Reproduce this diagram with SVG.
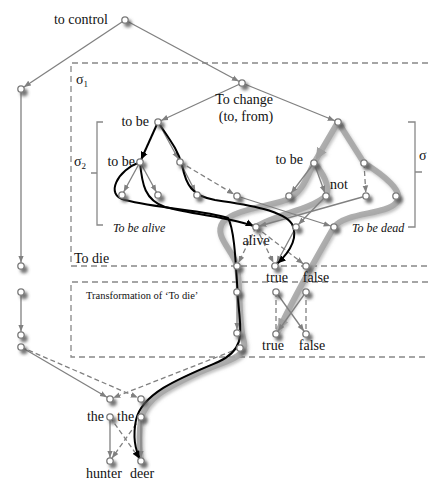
<svg xmlns="http://www.w3.org/2000/svg" width="428" height="480" viewBox="0 0 428 480">
<style>
text{font-family:"Liberation Serif","Times New Roman",serif;fill:#111;}
.f14{font-size:14px;}
.it{font-size:12px;font-style:italic;}
.sm{font-size:10.5px;}
.t{fill:none;stroke:#808080;stroke-width:1.3;}
.d{fill:none;stroke:#808080;stroke-width:1.3;stroke-dasharray:5,3;}
.g{fill:none;stroke:#a6a6a6;stroke-width:6;stroke-linecap:round;stroke-opacity:0.9;}
.k{fill:none;stroke:#000;stroke-width:2;}
.box{fill:none;stroke:#888;stroke-width:1.3;stroke-dasharray:6,4;}
.br{fill:none;stroke:#888;stroke-width:1.3;}
.n{fill:#fff;stroke:#7a7a7a;stroke-width:1.3;filter:url(#sh);}
</style>
<defs>
<filter id="sh" x="-100%" y="-100%" width="300%" height="300%">
<feDropShadow dx="3" dy="3.5" stdDeviation="1.8" flood-color="#555" flood-opacity="0.8"/>
</filter>
<filter id="gs" x="-20%" y="-20%" width="140%" height="140%">
<feDropShadow dx="1.5" dy="2" stdDeviation="1.5" flood-color="#777" flood-opacity="0.5"/>
</filter>
<marker id="ag" viewBox="0 0 10 10" refX="15" refY="5" markerWidth="7" markerHeight="7" markerUnits="userSpaceOnUse" orient="auto"><path d="M0,1 L10,5 L0,9 z" fill="#808080"/></marker>
<marker id="ak" viewBox="0 0 10 10" refX="13" refY="5" markerWidth="8" markerHeight="8" markerUnits="userSpaceOnUse" orient="auto"><path d="M0,0.5 L10,5 L0,9.5 z" fill="#000"/></marker>
<marker id="agg" viewBox="0 0 10 10" refX="13" refY="5" markerWidth="12" markerHeight="12" markerUnits="userSpaceOnUse" orient="auto"><path d="M0,0.5 L10,5 L0,9.5 z" fill="#a0a0a0"/></marker>
</defs>
<rect width="428" height="480" fill="#fff"/>

<g id="boxes">
<path class="box" d="M428,63 L71,63 L71,266 L428,266"/>
<path class="box" d="M428,282 L71,282 L71,357 L428,357"/>
<path class="br" d="M103,122 L97,122 L97,225 L103,225 M97,173 L91,173"/>
<path class="br" d="M408,122 L415,122 L415,227 L408,227 M415,172 L422,172"/>
<text class="f14" x="76" y="84">σ<tspan font-size="9" dy="3">1</tspan></text>
<text class="f14" x="74" y="166">σ<tspan font-size="9" dy="3">2</tspan></text>
<text class="f14" x="419" y="160">σ</text>
<text class="f14" x="74" y="263">To die</text>
<text class="sm" x="86" y="299">Transformation of ‘To die’</text>
<text class="it" x="113" y="232">To be alive</text>
<text class="it" x="352" y="232">To be dead</text>
</g>

<g id="connectors">
<g filter="url(#gs)">
<path class="g" d="M338,122 L314,163" marker-end="url(#agg)"/>
<path class="g" d="M338,122 L364,163"/>
<path class="g" d="M364,163 C382,174 406,192 396,203 C385,215 346,212 334,227 C318,255 292,300 277,334" marker-end="url(#agg)"/>
<path class="g" d="M314,163 C322,172 331,186 326,196"/>
<path class="g" d="M326,196 C310,210 276,214 256,227"/>
<path class="g" d="M314,163 C306,180 301,194 286,200 C266,207 236,209 223,222 C213,236 233,250 237,266 C241,292 238,322 244,342 C248,358 222,362 200,372 C168,387 145,398 141,420 C138,440 140,450 141,461"/>
</g>
<path class="t" d="M125,20 L21,89" marker-end="url(#ag)"/>
<path class="t" d="M125,20 L242,83" marker-end="url(#ag)"/>
<path class="t" d="M242,83 L158,122" marker-end="url(#ag)"/>
<path class="t" d="M242,83 L338,122" marker-end="url(#ag)"/>
<path class="t" d="M21,89 L21,266" marker-end="url(#ag)"/>
<path class="t" d="M21,292 L21,335" marker-end="url(#ag)"/>
<path class="t" d="M21,347 L110,399" marker-end="url(#ag)"/>
<path class="t" d="M158,122 L180,162" marker-end="url(#ag)"/>
<path class="t" d="M140,162 L122,195" marker-end="url(#ag)"/>
<path class="t" d="M140,162 L158,195" marker-end="url(#ag)"/>
<path class="t" d="M180,162 L197,195" marker-end="url(#ag)"/>
<path class="t" d="M314,163 L289,196" marker-end="url(#ag)"/>
<path class="t" d="M314,163 L326,196" marker-end="url(#ag)"/>
<path class="t" d="M237,196 L334,227" marker-end="url(#ag)"/>
<path class="t" d="M366,196 L256,227" marker-end="url(#ag)"/>
<path class="t" d="M326,196 L296,227" marker-end="url(#ag)"/>
<path class="t" d="M296,227 L275,266" marker-end="url(#ag)"/>
<path class="t" d="M237,292 L237,333" marker-end="url(#ag)"/>
<path class="t" d="M276,292 L306,334" marker-end="url(#ag)"/>
<path class="t" d="M306,292 L276,334" marker-end="url(#ag)"/>
<path class="t" d="M110,417 L110,461" marker-end="url(#ag)"/>
<path class="t" d="M141,417 L141,461" marker-end="url(#ag)"/>
<path class="d" d="M180,162 L237,196" marker-end="url(#ag)"/>
<path class="d" d="M364,163 L366,196" marker-end="url(#ag)"/>
<path class="d" d="M256,227 L237,266" marker-end="url(#ag)"/>
<path class="d" d="M256,227 L275,266" marker-end="url(#ag)"/>
<path class="d" d="M256,227 L306,266" marker-end="url(#ag)"/>
<path class="d" d="M276,292 L276,334"/>
<path class="d" d="M306,292 L306,334"/>
<path class="d" d="M21,347 L141,399" marker-end="url(#ag)"/>
<path class="d" d="M240,348 L110,399" marker-end="url(#ag)"/>
<path class="d" d="M110,417 L141,461" marker-end="url(#ag)"/>
<path class="d" d="M141,417 L110,461" marker-end="url(#ag)"/>
<path class="k" d="M158,122 L140,162" marker-end="url(#ak)"/>
<path class="k" d="M158,122 C170,140 178,150 182,165 C186,185 192,196 215,200 C250,205 284,211 292,224 C299,238 290,252 276,265" marker-end="url(#ak)"/>
<path class="k" d="M140,162 C118,170 104,195 125,200 C160,209 205,210 228,218 C236,232 236,280 239,310 C241,332 245,350 218,362 C180,378 142,393 136,420 C132,440 136,452 141,461" marker-end="url(#ak)"/>
<path class="k" d="M140,162 C142,185 145,200 165,207 C195,215 236,218 256,227" marker-end="url(#ak)"/>
</g>

<g id="nodes">
<g id="n-control"><circle class="n" cx="125" cy="20" r="3.2"/><text class="f14" x="108" y="24" text-anchor="end">to control</text></g>
<g id="n-a"><circle class="n" cx="21" cy="89" r="3.2"/></g>
<g id="n-change"><circle class="n" cx="242" cy="83" r="3.2"/><text class="f14" x="244" y="104" text-anchor="middle">To change</text><text class="f14" x="246" y="121" text-anchor="middle">(to, from)</text></g>
<g id="n-tobe1"><circle class="n" cx="158" cy="122" r="3.2"/><text class="f14" x="149" y="126" text-anchor="end">to be</text></g>
<g id="n-r"><circle class="n" cx="338" cy="122" r="3.2"/></g>
<g id="n-tobe2"><circle class="n" cx="140" cy="162" r="3.2"/><text class="f14" x="135" y="166" text-anchor="end">to be</text></g>
<g id="n-180"><circle class="n" cx="180" cy="162" r="3.2"/></g>
<g id="n-tobe3"><circle class="n" cx="314" cy="163" r="3.2"/><text class="f14" x="303" y="164" text-anchor="end">to be</text></g>
<g id="n-r2"><circle class="n" cx="364" cy="163" r="3.2"/></g>
<g id="n-l1"><circle class="n" cx="122" cy="195" r="3.2"/></g>
<g id="n-l2"><circle class="n" cx="158" cy="195" r="3.2"/></g>
<g id="n-l3"><circle class="n" cx="197" cy="195" r="3.2"/></g>
<g id="n-l4"><circle class="n" cx="237" cy="196" r="3.2"/></g>
<g id="n-m1"><circle class="n" cx="289" cy="196" r="3.2"/></g>
<g id="n-not"><circle class="n" cx="326" cy="196" r="3.2"/><text class="f14" x="330" y="189">not</text></g>
<g id="n-m3"><circle class="n" cx="366" cy="196" r="3.2"/></g>
<g id="n-m4"><circle class="n" cx="396" cy="196" r="3.2"/></g>
<g id="n-alive"><circle class="n" cx="256" cy="227" r="3.2"/><text class="f14" x="256" y="245" text-anchor="middle">alive</text></g>
<g id="n-p2"><circle class="n" cx="296" cy="227" r="3.2"/></g>
<g id="n-p3"><circle class="n" cx="334" cy="227" r="3.2"/></g>
<g id="n-q1"><circle class="n" cx="237" cy="266" r="3.2"/></g>
<g id="n-true1"><circle class="n" cx="275" cy="266" r="3.2"/><text class="f14" x="277" y="282" text-anchor="middle">true</text></g>
<g id="n-false1"><circle class="n" cx="306" cy="266" r="3.2"/><text class="f14" x="316" y="282" text-anchor="middle">false</text></g>
<g id="n-s1"><circle class="n" cx="237" cy="292" r="3.2"/></g>
<g id="n-s2"><circle class="n" cx="276" cy="292" r="3.2"/></g>
<g id="n-s3"><circle class="n" cx="306" cy="292" r="3.2"/></g>
<g id="n-u1"><circle class="n" cx="237" cy="333" r="3.2"/></g>
<g id="n-true2"><circle class="n" cx="276" cy="334" r="3.2"/><text class="f14" x="273" y="350" text-anchor="middle">true</text></g>
<g id="n-false2"><circle class="n" cx="306" cy="334" r="3.2"/><text class="f14" x="312" y="350" text-anchor="middle">false</text></g>
<g id="n-u4"><circle class="n" cx="240" cy="348" r="3.2"/></g>
<g id="n-b"><circle class="n" cx="21" cy="266" r="3.2"/></g>
<g id="n-c"><circle class="n" cx="21" cy="292" r="3.2"/></g>
<g id="n-d"><circle class="n" cx="21" cy="335" r="3.2"/></g>
<g id="n-e"><circle class="n" cx="21" cy="347" r="3.2"/></g>
<g id="n-v1"><circle class="n" cx="110" cy="399" r="3.2"/></g>
<g id="n-v2"><circle class="n" cx="141" cy="399" r="3.2"/></g>
<g id="n-the1"><circle class="n" cx="110" cy="417" r="3.2"/><text class="f14" x="104" y="421" text-anchor="end">the</text></g>
<g id="n-the2"><circle class="n" cx="141" cy="417" r="3.2"/><text class="f14" x="117" y="421">the</text></g>
<g id="n-hunter"><circle class="n" cx="110" cy="461" r="3.2"/><text class="f14" x="104" y="478" text-anchor="middle">hunter</text></g>
<g id="n-deer"><circle class="n" cx="141" cy="461" r="3.2"/><text class="f14" x="142" y="478" text-anchor="middle">deer</text></g>
</g>
</svg>
